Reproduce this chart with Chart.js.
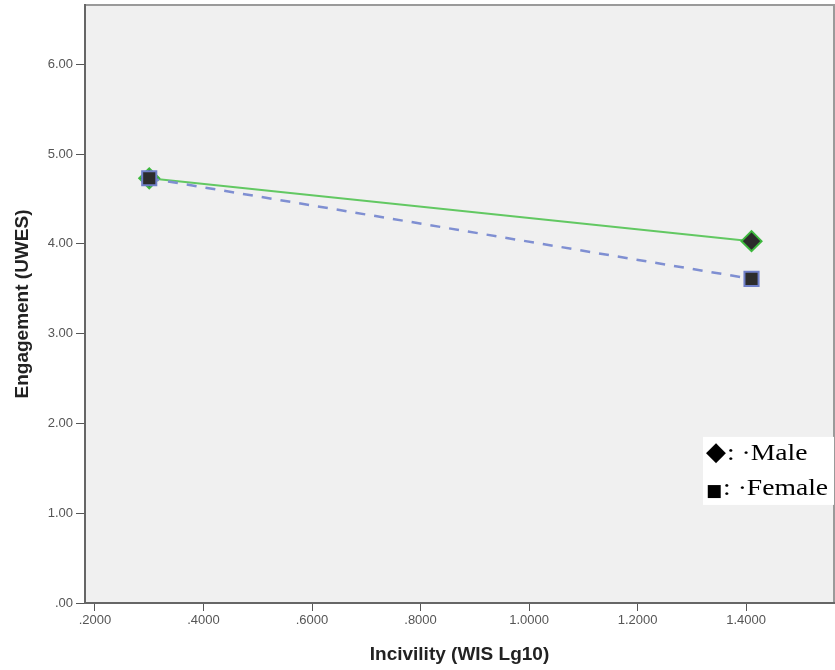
<!DOCTYPE html>
<html>
<head>
<meta charset="utf-8">
<script src="https://cdn.jsdelivr.net/npm/chart.js@4/dist/chart.umd.min.js"></script>
<style>
  html, body { margin: 0; padding: 0; background: #fff; }
  #wrap { width: 835px; height: 670px; position: relative; }
</style>
</head>
<body>
<div id="wrap"><canvas id="chart"></canvas></div>
<script>
// values
const incivility = [0.30, 1.41];
const maleEngagement = [4.73, 4.03];
const femaleEngagement = [4.73, 3.61];
const seriesNames = ['Male', 'Female'];
const legendGlyphs = ['\u25C6', '\u25A0'];
const legendTexts = [': \u00B7Male', ': \u00B7Female'];
const xTickValues = [0.2, 0.4, 0.6, 0.8, 1.0, 1.2, 1.4];
const yTickValues = [0, 1, 2, 3, 4, 5, 6];

const toPoints = ys => incivility.map((x, i) => ({ x: x, y: ys[i] }));

// grey plot panel plus frame line on top/right
const panelPlugin = {
    id: 'panel',
    beforeDraw(chart) {
        const { ctx, chartArea: a } = chart;
        ctx.save();
        ctx.fillStyle = '#f0f0f0';
        ctx.fillRect(a.left, a.top, a.right - a.left, a.bottom - a.top);
        ctx.strokeStyle = '#9a9a9a';
        ctx.lineWidth = 2;
        ctx.beginPath();
        ctx.moveTo(a.left, a.top);
        ctx.lineTo(a.right, a.top);
        ctx.lineTo(a.right, a.bottom);
        ctx.stroke();
        ctx.restore();
    }
};

// pasted-in legend box in the lower right
const legendBoxPlugin = {
    id: 'legendBox',
    afterDraw(chart) {
        const { ctx, chartArea: a } = chart;
        const boxW = 131, boxH = 68;
        const bx = a.right - boxW;
        const by = chart.scales.y.getPixelForValue(1.85);
        const glyphSize = [26, 17];
        ctx.save();
        ctx.fillStyle = '#ffffff';
        ctx.fillRect(bx, by, boxW, boxH);
        ctx.fillStyle = '#000000';
        ctx.textBaseline = 'alphabetic';
        legendTexts.forEach((t, i) => {
            const base = by + 23 + i * 35;
            ctx.font = glyphSize[i] + 'px "DejaVu Sans", sans-serif';
            ctx.fillText(legendGlyphs[i], bx + 3, base + i);
            const gw = ctx.measureText(legendGlyphs[i]).width;
            ctx.save();
            ctx.translate(bx + 4 + gw, base);
            ctx.scale(1.15, 1);
            ctx.font = '24px "Liberation Serif", "DejaVu Serif", serif';
            ctx.fillText(t, 0, 0);
            ctx.restore();
        });
        ctx.restore();
    }
};

const noPad = s => {
    s.paddingLeft = 0;
    s.paddingRight = 0;
    s.paddingTop = 0;
    s.paddingBottom = 0;
};

new Chart(document.getElementById('chart'), {
    type: 'line',
    data: {
        datasets: [{
            label: seriesNames[0],
            data: toPoints(maleEngagement),
            borderColor: '#62c862',
            borderWidth: 2,
            pointStyle: 'rectRot',
            pointRadius: 10,
            pointBackgroundColor: '#2c2c2c',
            pointBorderColor: '#3db83d',
            pointBorderWidth: 2,
            order: 1
        }, {
            label: seriesNames[1],
            data: toPoints(femaleEngagement),
            borderColor: '#7f8fd2',
            borderWidth: 2.5,
            borderDash: [10, 9],
            pointStyle: 'rect',
            pointRadius: 10,
            pointBackgroundColor: '#2c2c2c',
            pointBorderColor: '#6f7fc8',
            pointBorderWidth: 2,
            order: 0
        }]
    },
    options: {
        responsive: true,
        maintainAspectRatio: false,
        animation: false,
        layout: { autoPadding: false, padding: { top: 5, right: 1, left: 0, bottom: 0 } },
        plugins: {
            legend: { display: false },
            tooltip: { enabled: false }
        },
        scales: {
            x: {
                type: 'linear',
                min: 0.1816,
                max: 1.562,
                afterFit: s => { s.height = 67; noPad(s); },
                afterBuildTicks: s => { s.ticks = xTickValues.map(v => ({ value: v })); },
                grid: { drawOnChartArea: false, drawTicks: true, tickLength: 8, color: '#555' },
                border: { display: true, color: '#666', width: 2 },
                ticks: {
                    color: '#555',
                    padding: 2,
                    maxRotation: 0,
                    font: { family: 'Arial, "Liberation Sans", sans-serif', size: 13 },
                    callback: v => v < 1 ? '.' + v.toFixed(4).slice(2) : v.toFixed(4)
                },
                title: {
                    display: true,
                    text: 'Incivility (WIS Lg10)',
                    color: '#222',
                    font: { family: 'Arial, "Liberation Sans", sans-serif', size: 19, weight: 'bold' },
                    padding: { top: 0, bottom: 4 }
                }
            },
            y: {
                type: 'linear',
                min: 0,
                max: 6.66,
                afterFit: s => { s.width = 85; noPad(s); },
                afterBuildTicks: s => { s.ticks = yTickValues.map(v => ({ value: v })); },
                grid: { drawOnChartArea: false, drawTicks: true, tickLength: 9, color: '#555' },
                border: { display: true, color: '#666', width: 2 },
                ticks: {
                    color: '#555',
                    padding: 3,
                    font: { family: 'Arial, "Liberation Sans", sans-serif', size: 13 },
                    callback: v => v === 0 ? '.00' : v.toFixed(2)
                },
                title: {
                    display: true,
                    text: 'Engagement (UWES)',
                    color: '#222',
                    font: { family: 'Arial, "Liberation Sans", sans-serif', size: 19, weight: 'bold' },
                    padding: { top: 11, bottom: 0 }
                }
            }
        }
    },
    plugins: [panelPlugin, legendBoxPlugin]
});
</script>
</body>
</html>
